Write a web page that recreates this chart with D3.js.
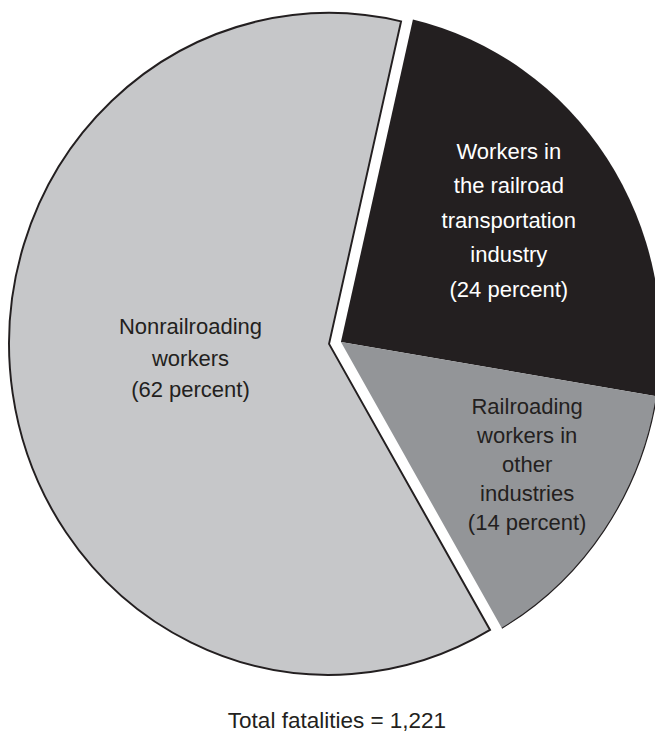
<!DOCTYPE html>
<html>
<head>
<meta charset="utf-8">
<script src="https://cdn.jsdelivr.net/npm/d3@7"></script>
<style>
  body { margin: 0; background: #fff; }
  text { font-family: "Liberation Sans", Arial, sans-serif; }
</style>
</head>
<body>
<div id="chart"></div>
<script>
// pie data
const categories = ["Workers in the railroad transportation industry", "Railroading workers in other industries", "Nonrailroading workers"];
const percents = [24, 14, 62];
const labelLines = [
  ["Workers in", "the railroad", "transportation", "industry", "(24 percent)"],
  ["Railroading", "workers in", "other", "industries", "(14 percent)"],
  ["Nonrailroading", "workers", "(62 percent)"]
];
const totalLabel = "Total fatalities = 1,221";

const width = 655, height = 744;
const cx = 335, cy = 343, r = 331, sx = 320 / 331;
const startDeg = 13;
const fills = ["#231f20", "#939598", "#c6c7c9"];
const textColors = ["#ffffff", "#231f20", "#231f20"];
const labelR = [209, 234, 145];
const labelDy = [-6, -11, -8];
const lineH = [34.5, 29, 31.5];
const explode = 6;

const svg = d3.select("#chart").append("svg")
  .attr("width", width).attr("height", height);

const pie = d3.pie().sort(null)
  .startAngle(startDeg * Math.PI / 180)
  .endAngle(startDeg * Math.PI / 180 + 2 * Math.PI);
const slices = pie(percents);

const arc = d3.arc().innerRadius(0).outerRadius(r);
const rim = d3.arc().innerRadius(r).outerRadius(r);

// dark slices pushed one way, light slice the other
const darkMid = (slices[0].startAngle + slices[1].endAngle) / 2;
const lightMid = (slices[2].startAngle + slices[2].endAngle) / 2;
function offset(i) {
  const a = i < 2 ? darkMid : lightMid;
  return [Math.sin(a) * explode, -Math.cos(a) * explode];
}

const g = svg.selectAll("g.slice")
  .data(slices)
  .enter().append("g")
  .attr("class", "slice")
  .attr("transform", (d, i) => {
    const o = offset(i);
    return `translate(${cx + o[0]}, ${cy + o[1]}) scale(${sx}, 1)`;
  });

g.append("path")
  .attr("d", arc)
  .attr("fill", (d, i) => fills[i])
  .attr("stroke", (d, i) => i === 2 ? "#231f20" : "none")
  .attr("stroke-width", 2)
  .attr("stroke-linejoin", "miter");

// thin outline on the outer edge of the grey slice
g.filter((d, i) => i === 1).append("path")
  .attr("d", rim)
  .attr("fill", "none")
  .attr("stroke", "#231f20")
  .attr("stroke-width", 1.2);

// labels
slices.forEach((d, i) => {
  const o = offset(i);
  const a = (d.startAngle + d.endAngle) / 2;
  const lx = cx + o[0] + Math.sin(a) * labelR[i] * sx;
  const ly = cy + o[1] - Math.cos(a) * labelR[i] + labelDy[i];
  const lines = labelLines[i];
  const t = svg.append("text")
    .attr("text-anchor", "middle")
    .attr("font-size", 22)
    .attr("fill", textColors[i]);
  lines.forEach((ln, k) => {
    t.append("tspan")
      .attr("x", lx)
      .attr("y", ly + (k - (lines.length - 1) / 2) * lineH[i] + 8)
      .text(ln);
  });
});

svg.append("text")
  .attr("x", 337).attr("y", 728)
  .attr("text-anchor", "middle")
  .attr("font-size", 22.5)
  .attr("fill", "#231f20")
  .text(totalLabel);
</script>
</body>
</html>
